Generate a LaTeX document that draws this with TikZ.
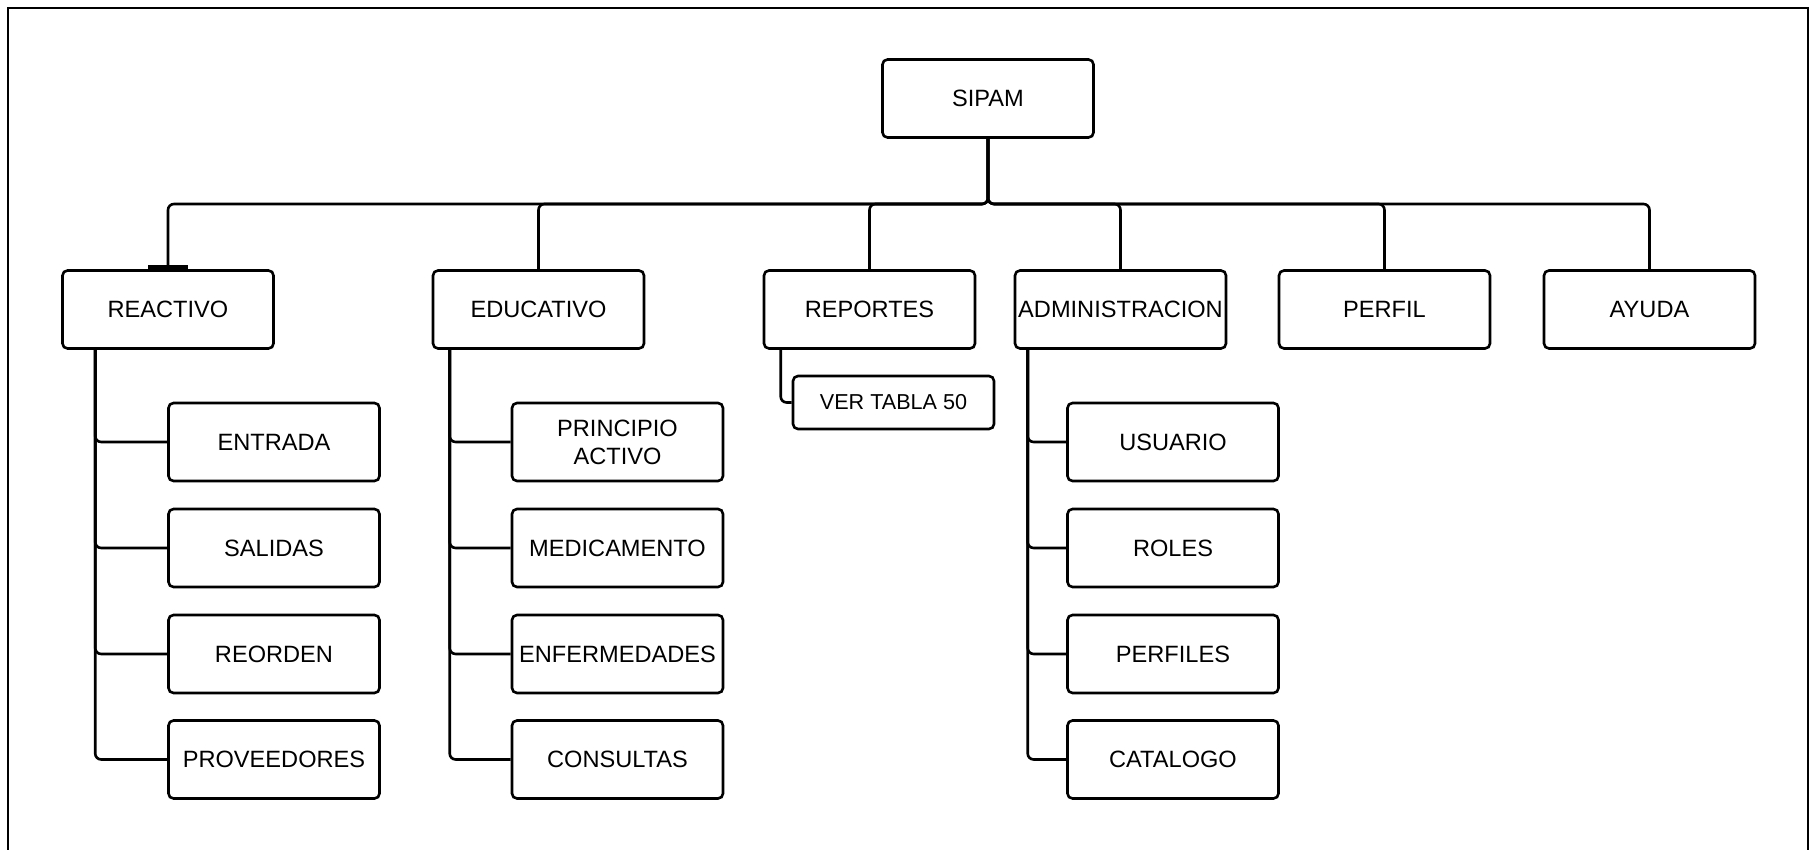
\documentclass[tikz,border=0pt]{standalone}
\usepackage{fontspec}
\setmainfont{Liberation Sans}
\usepackage{tikz}

\tikzset{
  box/.style={draw, rounded corners=2.5pt, line width=1.3pt, minimum width=105.5pt, minimum height=39pt, align=center, inner sep=1pt, font=\fontsize{11.8}{14}\selectfont},
  smallbox/.style={box, minimum width=100.5pt, minimum height=26.5pt, font=\fontsize{10.8}{12}\selectfont},
  link/.style={line width=1.3pt, rounded corners=3pt}
}

\begin{document}
\begin{tikzpicture}[x=0.5pt,y=-0.5pt]
\useasboundingbox (0,0) rectangle (1815,850);
\draw[line width=1pt] (8,850) -- (8,8) -- (1808,8) -- (1808,850);

\node[box] (sipam) at (988,98.5) {SIPAM};
\coordinate (bus) at (988,204);

\node[box] (reactivo) at (168,309.5) {REACTIVO};
\node[box] (educativo) at (538.5,309.5) {EDUCATIVO};
\node[box] (reportes) at (869.5,309.5) {REPORTES};
\node[box] (administracion) at (1120.5,309.5) {ADMINISTRACION};
\node[box] (perfil) at (1384.5,309.5) {PERFIL};
\node[box] (ayuda) at (1649.5,309.5) {AYUDA};

\node[box] (entrada) at (274,442) {ENTRADA};
\node[box] (salidas) at (274,548) {SALIDAS};
\node[box] (reorden) at (274,654) {REORDEN};
\node[box] (proveedores) at (274,759.5) {PROVEEDORES};

\node[box] (principio) at (617.5,442) {PRINCIPIO\\ACTIVO};
\node[box] (medicamento) at (617.5,548) {MEDICAMENTO};
\node[box] (enfermedades) at (617.5,654) {ENFERMEDADES};
\node[box] (consultas) at (617.5,759.5) {CONSULTAS};

\node[smallbox] (vertabla) at (893.5,402.5) {VER TABLA 50};

\node[box] (usuario) at (1173,442) {USUARIO};
\node[box] (roles) at (1173,548) {ROLES};
\node[box] (perfiles) at (1173,654) {PERFILES};
\node[box] (catalogo) at (1173,759.5) {CATALOGO};

\foreach \n in {reactivo,educativo,reportes,administracion,perfil,ayuda}
  \draw[link] (sipam.south) -- (bus) -| (\n.north);
\draw[line width=2pt] ([xshift=-10pt,yshift=1pt]reactivo.north) -- ([xshift=10pt,yshift=1pt]reactivo.north);

\foreach \c in {entrada,salidas,reorden,proveedores}
  \draw[link] ([xshift=17pt]reactivo.south west) |- (\c.west);
\foreach \c in {principio,medicamento,enfermedades,consultas}
  \draw[link] ([xshift=9pt]educativo.south west) |- (\c.west);
\draw[link] ([xshift=9pt]reportes.south west) |- (vertabla.west);
\foreach \c in {usuario,roles,perfiles,catalogo}
  \draw[link] ([xshift=7pt]administracion.south west) |- (\c.west);
\end{tikzpicture}
\end{document}
